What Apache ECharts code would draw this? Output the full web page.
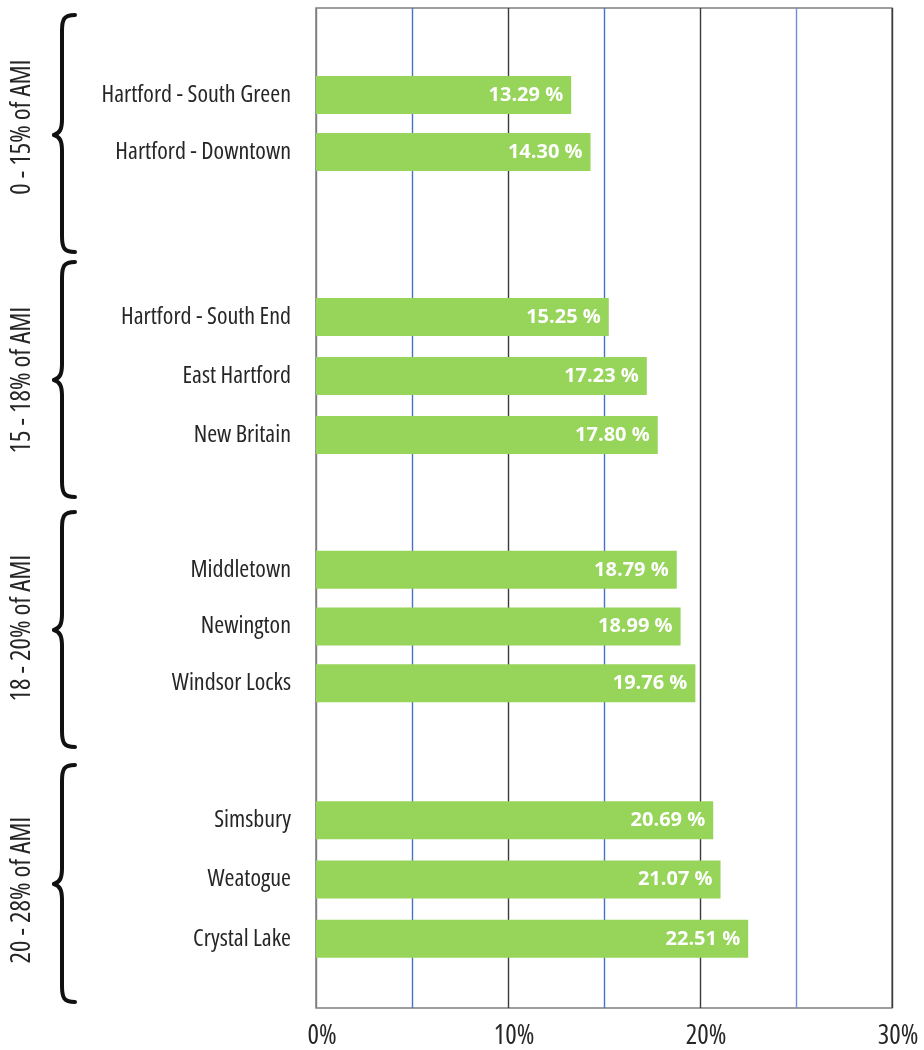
<!DOCTYPE html>
<html>
<head>
<meta charset="utf-8">
<script src="https://cdn.jsdelivr.net/npm/echarts@6/dist/echarts.min.js"></script>
<style>
html,body{margin:0;padding:0;background:#fff;}
#chart{width:924px;height:1050px;}
</style>
</head>
<body>
<div id="chart"></div>
<script>
// ---- data ----
const groupLabels = ['0 - 15% of AMI', '15 - 18% of AMI', '18 - 20% of AMI', '20 - 28% of AMI'];
const group1Names = ['Hartford - South Green', 'Hartford - Downtown'];
const group1Values = [13.29, 14.30];
const group2Names = ['Hartford - South End', 'East Hartford', 'New Britain'];
const group2Values = [15.25, 17.23, 17.80];
const group3Names = ['Middletown', 'Newington', 'Windsor Locks'];
const group3Values = [18.79, 18.99, 19.76];
const group4Names = ['Simsbury', 'Weatogue', 'Crystal Lake'];
const group4Values = [20.69, 21.07, 22.51];
const xTicks = [0, 5, 10, 15, 20, 25, 30];

const groups = [
  {names: group1Names, values: group1Values},
  {names: group2Names, values: group2Values},
  {names: group3Names, values: group3Values},
  {names: group4Names, values: group4Values}
];

// ---- layout (pixels) ----
const LEFT = 316, RIGHT = 924 - 892, TOP = 8, BOTTOM = 1050 - 1008;
const barGrids = [
  {top: 66.5, height: 114},
  {top: 287.5, height: 177},
  {top: 541.5, height: 170},
  {top: 790.5, height: 178}
];
const braces = [
  {y1: 15, y2: 252, ym: 135, ty: 127},
  {y1: 262, y2: 497, ym: 380, ty: 380},
  {y1: 512, y2: 747, ym: 630, ty: 628},
  {y1: 765, y2: 1002, ym: 884, ty: 890}
];

const COND_FAMILY = "'Open Sans', sans-serif";
const COND = 'condensed'; // font-stretch keyword passed through the font shorthand

const chart = echarts.init(document.getElementById('chart'), null, {renderer: 'canvas'});

const grid = [{left: LEFT, right: RIGHT, top: TOP, bottom: BOTTOM, show: true,
  borderColor: '#7f7f7f', borderWidth: 1.5, backgroundColor: 'transparent'}];
const xAxis = [{
  gridIndex: 0, type: 'value', min: xTicks[0], max: xTicks[xTicks.length - 1], interval: 5,
  axisLine: {show: false}, axisTick: {show: false},
  axisLabel: {margin: 15, fontFamily: COND_FAMILY, fontWeight: COND, fontSize: 27, color: '#262626',
    padding: [0, 0, 0, 12],
    formatter: v => (v % 10 === 0 ? v + '%' : '')},
  splitLine: {show: true, lineStyle: {width: 1.4,
    color: ['#7f7f7f', '#4472C4', '#3a3a3a', '#4472C4', '#3a3a3a', '#6f8fd0', '#3a3a3a']}}
}];
const yAxis = [{gridIndex: 0, type: 'value', min: 0, max: 1, show: false}];
const series = [];

groups.forEach((g, i) => {
  const gi = i + 1;
  grid.push({left: LEFT, right: RIGHT, top: barGrids[i].top, height: barGrids[i].height});
  xAxis.push({gridIndex: gi, type: 'value', min: 0, max: 30, show: false, splitLine: {show: false}});
  yAxis.push({
    gridIndex: gi, type: 'category', data: g.names, inverse: true,
    axisLine: {show: false}, axisTick: {show: false},
    axisLabel: {margin: 25, fontFamily: COND_FAMILY, fontWeight: COND, fontSize: 24, color: '#262626'}
  });
  series.push({
    type: 'bar', xAxisIndex: gi, yAxisIndex: gi, data: g.values, barWidth: 38,
    itemStyle: {color: '#97D45A'},
    label: {show: true, position: 'insideRight', distance: 8, color: '#fff',
      fontFamily: "'Open Sans', sans-serif", fontWeight: 'bold', fontSize: 20,
      formatter: p => p.value.toFixed(2) + ' %'},
    silent: true, animation: false
  });
});

const braceStyle = {fill: null, stroke: '#111', lineWidth: 4, lineCap: 'round'};
function braceParts(x0, y1, y2, ym) {
  const tip = x0 + 13, sp = x0, pt = x0 - 8;
  return [
    {type: 'bezierCurve', shape: {x1: tip, y1: y1, x2: sp, y2: y1 + 16, cpx1: sp + 2, cpy1: y1, cpx2: sp, cpy2: y1 + 4}, style: braceStyle},
    {type: 'line', shape: {x1: sp, y1: y1 + 16, x2: sp, y2: ym - 16}, style: braceStyle},
    {type: 'bezierCurve', shape: {x1: sp, y1: ym - 16, x2: pt, y2: ym, cpx1: sp, cpy1: ym - 6, cpx2: sp - 2, cpy2: ym - 2}, style: braceStyle},
    {type: 'bezierCurve', shape: {x1: pt, y1: ym, x2: sp, y2: ym + 16, cpx1: sp - 2, cpy1: ym + 2, cpx2: sp, cpy2: ym + 6}, style: braceStyle},
    {type: 'line', shape: {x1: sp, y1: ym + 16, x2: sp, y2: y2 - 16}, style: braceStyle},
    {type: 'bezierCurve', shape: {x1: sp, y1: y2 - 16, x2: tip, y2: y2, cpx1: sp, cpy1: y2 - 4, cpx2: sp + 2, cpy2: y2}, style: braceStyle}
  ];
}

const graphic = [];
braces.forEach((b, i) => {
  braceParts(62, b.y1, b.y2, b.ym).forEach(p => graphic.push(p));
  graphic.push({type: 'text', x: 22, y: b.ty, rotation: Math.PI / 2,
    style: {text: groupLabels[i], fontFamily: COND_FAMILY, fontWeight: COND, fontSize: 27, fill: '#262626',
      textAlign: 'center', textVerticalAlign: 'middle'}});
});

chart.setOption({animation: false, grid, xAxis, yAxis, series, graphic});
</script>
</body>
</html>
